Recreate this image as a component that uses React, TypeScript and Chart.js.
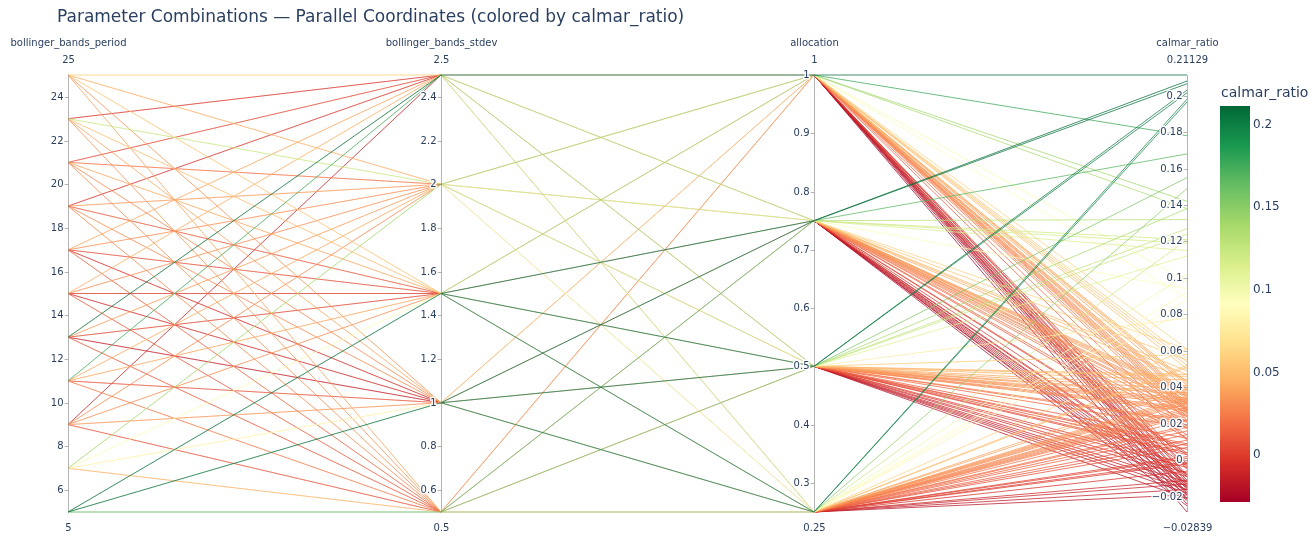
import { useEffect, useRef } from "react";
import { Chart, registerables } from "chart.js";

Chart.register(...registerables);

// ---- data -------------------------------------------------------------
const TITLE = "Parameter Combinations — Parallel Coordinates (colored by calmar_ratio)";

// (period, stdev) combinations that were evaluated
const pairPeriod = [
  5, 5, 5,
  7, 7, 7, 7,
  9, 9, 9, 9, 9,
  11, 11, 11, 11, 11,
  13, 13, 13, 13, 13,
  15, 15, 15, 15, 15,
  17, 17, 17, 17, 17,
  19, 19, 19, 19, 19,
  21, 21, 21, 21, 21,
  23, 23, 23, 23, 23,
  25, 25, 25, 25, 25,
];
const pairStdev = [
  0.5, 1, 1.5,
  0.5, 1, 1.5, 2,
  0.5, 1, 1.5, 2, 2.5,
  0.5, 1, 1.5, 2, 2.5,
  0.5, 1, 1.5, 2, 2.5,
  0.5, 1, 1.5, 2, 2.5,
  0.5, 1, 1.5, 2, 2.5,
  0.5, 1, 1.5, 2, 2.5,
  0.5, 1, 1.5, 2, 2.5,
  0.5, 1, 1.5, 2, 2.5,
  0.5, 1, 1.5, 2, 2.5,
];

const allocations = [1, 0.75, 0.5, 0.25];

// calmar_ratio per (period, stdev) pair, one list per allocation
const calmarAlloc100 = [
  0.033, 0.056, 0.138,
  0.036, 0.05, 0.089, 0.142,
  -0.008, 0.034, 0.029, 0.031, -0.012,
  0.024, -0.015, 0.039, 0.043, 0.178,
  -0.011, -0.018, -0.024, 0.034, 0.21129,
  -0.004, -0.021, -0.02839, 0.028, 0.039,
  0.011, -0.014, -0.019, 0.029, 0.041,
  0.027, 0.022, -0.009, 0.036, -0.005,
  0.026, 0.031, 0.042, 0.017, -0.016,
  0.035, 0.041, 0.052, 0.098, -0.002,
  0.03, 0.035, 0.054, 0.039, 0.061,
];
const calmarAlloc75 = [
  0.168, 0.2065, 0.208,
  0.038, 0.061, 0.094, 0.121,
  0.003, 0.028, 0.024, 0.026, -0.013,
  0.019, -0.008, 0.033, 0.036, 0.115,
  0.004, -0.019, -0.017, 0.031, 0.132,
  0.012, -0.025, -0.022, 0.033, 0.044,
  0.014, -0.009, -0.003, 0.021, 0.038,
  0.031, 0.026, 0.012, 0.029, -0.015,
  0.032, 0.024, 0.035, 0.021, -0.021,
  0.028, 0.037, 0.047, 0.119, -0.012,
  0.038, 0.031, 0.049, 0.044, 0.055,
];
const calmarAlloc50 = [
  0.155, 0.2015, 0.203,
  0.047, 0.058, 0.078, 0.112,
  0.004, 0.031, 0.033, 0.018, -0.009,
  0.021, -0.004, 0.041, 0.029, 0.138,
  0.012, -0.014, 0.006, 0.037, 0.127,
  0.003, -0.007, -0.018, 0.022, 0.036,
  0.009, -0.016, -0.002, 0.032, 0.027,
  0.018, 0.031, 0.008, 0.034, -0.021,
  0.021, 0.027, 0.039, 0.012, 0.006,
  0.033, 0.029, 0.044, 0.124, -0.012,
  0.032, 0.028, 0.046, 0.036, 0.058,
];
const calmarAlloc25 = [
  0.149, 0.1965, 0.198,
  0.031, 0.083, 0.061, 0.102,
  0.009, 0.022, 0.026, 0.028, -0.019,
  0.016, 0.011, 0.035, 0.032, 0.092,
  0.007, -0.016, 0.001, 0.027, 0.121,
  0.014, -0.013, 0.002, 0.025, 0.041,
  0.016, -0.006, 0.009, 0.024, 0.034,
  0.029, 0.019, -0.001, 0.022, -0.002,
  0.028, 0.018, 0.031, 0.019, 0.001,
  0.025, 0.034, 0.039, 0.088, -0.011,
  0.041, 0.033, 0.051, 0.033, 0.052,
];
const calmarByAllocation = [calmarAlloc100, calmarAlloc75, calmarAlloc50, calmarAlloc25];

// axis ticks
const periodTicks = [6, 8, 10, 12, 14, 16, 18, 20, 22, 24];
const stdevTicks = [0.6, 0.8, 1, 1.2, 1.4, 1.6, 1.8, 2, 2.2, 2.4];
const allocationTicks = [0.3, 0.4, 0.5, 0.6, 0.7, 0.8, 0.9, 1];
const calmarTicks = [-0.02, 0, 0.02, 0.04, 0.06, 0.08, 0.1, 0.12, 0.14, 0.16, 0.18, 0.2];
const colorbarTicks = [0, 0.05, 0.1, 0.15, 0.2];

// RdYlGn colour scale
const colorScale: [number, number[]][] = [
  [0, [165, 0, 38]],
  [0.1, [215, 48, 39]],
  [0.2, [244, 109, 67]],
  [0.3, [253, 174, 97]],
  [0.4, [254, 224, 139]],
  [0.5, [255, 255, 191]],
  [0.6, [217, 239, 139]],
  [0.7, [166, 217, 106]],
  [0.8, [102, 189, 99]],
  [0.9, [26, 152, 80]],
  [1, [0, 104, 55]],
];

// ---- helpers ------------------------------------------------------------
const FONT = '"DejaVu Sans", Verdana, sans-serif';
const TEXT = "#2a3f5f";
const LINE_ALPHA = 0.74;
const HIDDEN_ALPHA = 0.05;

function rgbAt(t: number): number[] {
  const u = Math.max(0, Math.min(1, t));
  for (let i = 1; i < colorScale.length; i++) {
    const [p1, c1] = colorScale[i];
    if (u <= p1) {
      const [p0, c0] = colorScale[i - 1];
      const f = (u - p0) / (p1 - p0);
      return c0.map((c, k) => Math.round(c + (c1[k] - c) * f));
    }
  }
  return colorScale[colorScale.length - 1][1];
}

function fmt(v: number): string {
  const s = String(Number(v.toFixed(5)));
  return s.replace("-", "\u2212");
}

type Row = { period: number; stdev: number; allocation: number; calmar: number };

const rows: Row[] = [];
allocations.forEach((a, ai) => {
  pairPeriod.forEach((p, pi) => {
    rows.push({ period: p, stdev: pairStdev[pi], allocation: a, calmar: calmarByAllocation[ai][pi] });
  });
});

const calmarValues = rows.map((r) => r.calmar);
const calmarMin = Math.min(...calmarValues);
const calmarMax = Math.max(...calmarValues);

type Dim = { label: string; key: keyof Row; min: number; max: number; ticks: number[] };
const dims: Dim[] = [
  { label: "bollinger_bands_period", key: "period", min: Math.min(...pairPeriod), max: Math.max(...pairPeriod), ticks: periodTicks },
  { label: "bollinger_bands_stdev", key: "stdev", min: Math.min(...pairStdev), max: Math.max(...pairStdev), ticks: stdevTicks },
  { label: "allocation", key: "allocation", min: Math.min(...allocations), max: Math.max(...allocations), ticks: allocationTicks },
  { label: "calmar_ratio", key: "calmar", min: calmarMin, max: calmarMax, ticks: calmarTicks },
];

const norm = (d: Dim, v: number) => (v - d.min) / (d.max - d.min);

// highest calmar first: Chart.js paints dataset 0 last, so it lands on top
const sortedRows = [...rows].sort((a, b) => b.calmar - a.calmar);

// a segment shared by several rows shows the colour of the highest one;
// the ones underneath only leave a faint tint
const segmentVisible: boolean[][] = (() => {
  const seen = new Set<string>();
  return sortedRows.map((r) =>
    dims.slice(0, -1).map((d, i) => {
      const key = `${i}|${r[d.key]}|${r[dims[i + 1].key]}`;
      if (seen.has(key)) return false;
      seen.add(key);
      return true;
    })
  );
})();

function haloText(ctx: CanvasRenderingContext2D, s: string, x: number, y: number) {
  ctx.lineWidth = 3;
  ctx.strokeStyle = "rgba(255,255,255,0.9)";
  ctx.lineJoin = "round";
  ctx.strokeText(s, x, y);
  ctx.fillText(s, x, y);
}

const overlayPlugin = {
  id: "parcoordsOverlay",
  afterDatasetsDraw(chart: any) {
    const ctx: CanvasRenderingContext2D = chart.ctx;
    const xs = chart.scales.x;
    const ys = chart.scales.y;
    const top = ys.getPixelForValue(1);
    const bottom = ys.getPixelForValue(0);
    ctx.save();

    // title
    ctx.fillStyle = TEXT;
    ctx.font = `17px ${FONT}`;
    ctx.textAlign = "left";
    ctx.textBaseline = "middle";
    ctx.fillText(TITLE, 57, 18);

    dims.forEach((d, i) => {
      const x = Math.round(xs.getPixelForValue(i)) + 0.5;
      // axis line
      ctx.strokeStyle = "rgba(120,120,120,0.55)";
      ctx.lineWidth = 1;
      ctx.beginPath();
      ctx.moveTo(x, top);
      ctx.lineTo(x, bottom);
      ctx.stroke();

      // ticks + labels
      ctx.font = `10px ${FONT}`;
      ctx.textAlign = "right";
      ctx.textBaseline = "middle";
      d.ticks.forEach((t) => {
        const y = Math.round(ys.getPixelForValue(norm(d, t))) + 0.5;
        ctx.strokeStyle = "rgba(120,120,120,0.55)";
        ctx.lineWidth = 1;
        ctx.beginPath();
        ctx.moveTo(x - 4, y);
        ctx.lineTo(x, y);
        ctx.stroke();
        ctx.fillStyle = TEXT;
        haloText(ctx, fmt(t), x - 5, y);
      });

      // axis title and range labels
      ctx.textAlign = "center";
      ctx.fillStyle = TEXT;
      ctx.fillText(d.label, x, 43);
      ctx.fillText(fmt(d.max), x, 60);
      ctx.fillText(fmt(d.min), x, 528);
    });

    // colour bar
    const cbX = 1220;
    const cbW = 30;
    const cbTop = 106;
    const cbBottom = 502;
    const grad = ctx.createLinearGradient(0, cbTop, 0, cbBottom);
    colorScale.forEach(([p, c]) => grad.addColorStop(1 - p, `rgb(${c[0]},${c[1]},${c[2]})`));
    ctx.fillStyle = grad;
    ctx.fillRect(cbX, cbTop, cbW, cbBottom - cbTop);

    ctx.fillStyle = TEXT;
    ctx.font = `14px ${FONT}`;
    ctx.textAlign = "left";
    ctx.textBaseline = "middle";
    ctx.fillText("calmar_ratio", 1221, 93);

    ctx.font = `12px ${FONT}`;
    colorbarTicks.forEach((v) => {
      const y = cbTop + ((calmarMax - v) / (calmarMax - calmarMin)) * (cbBottom - cbTop);
      ctx.fillText(fmt(v), cbX + cbW + 3, y);
    });

    ctx.restore();
  },
};

export default function App() {
  const canvasRef = useRef<HTMLCanvasElement | null>(null);

  useEffect(() => {
    if (!canvasRef.current) return;
    const datasets = sortedRows.map((r, ri) => {
      const c = rgbAt((r.calmar - calmarMin) / (calmarMax - calmarMin));
      const shown = `rgba(${c[0]},${c[1]},${c[2]},${LINE_ALPHA})`;
      const faint = `rgba(${c[0]},${c[1]},${c[2]},${HIDDEN_ALPHA})`;
      return {
        data: dims.map((d, i) => ({ x: i, y: norm(d, r[d.key] as number) })),
        borderColor: shown,
        borderWidth: 1,
        pointRadius: 0,
        fill: false,
        tension: 0,
        clip: false as any,
        segment: {
          borderColor: (sc: any) => (segmentVisible[ri][sc.p0DataIndex] ? shown : faint),
        },
      };
    });

    const chart = new Chart(canvasRef.current, {
      type: "line",
      data: { datasets },
      options: {
        animation: false,
        responsive: false,
        events: [],
        layout: { padding: { left: 68, right: 128, top: 75, bottom: 27 } },
        plugins: {
          legend: { display: false },
          tooltip: { enabled: false },
          title: { display: false },
        },
        scales: {
          x: { type: "linear", min: 0, max: dims.length - 1, display: false },
          y: { type: "linear", min: 0, max: 1, display: false },
        },
      },
      plugins: [overlayPlugin],
    });
    return () => chart.destroy();
  }, []);

  return (
    <div style={{ position: "absolute", left: 0, top: 0, width: 1315, height: 539, background: "#fff" }}>
      <canvas ref={canvasRef} width={1315} height={539} />
    </div>
  );
}
